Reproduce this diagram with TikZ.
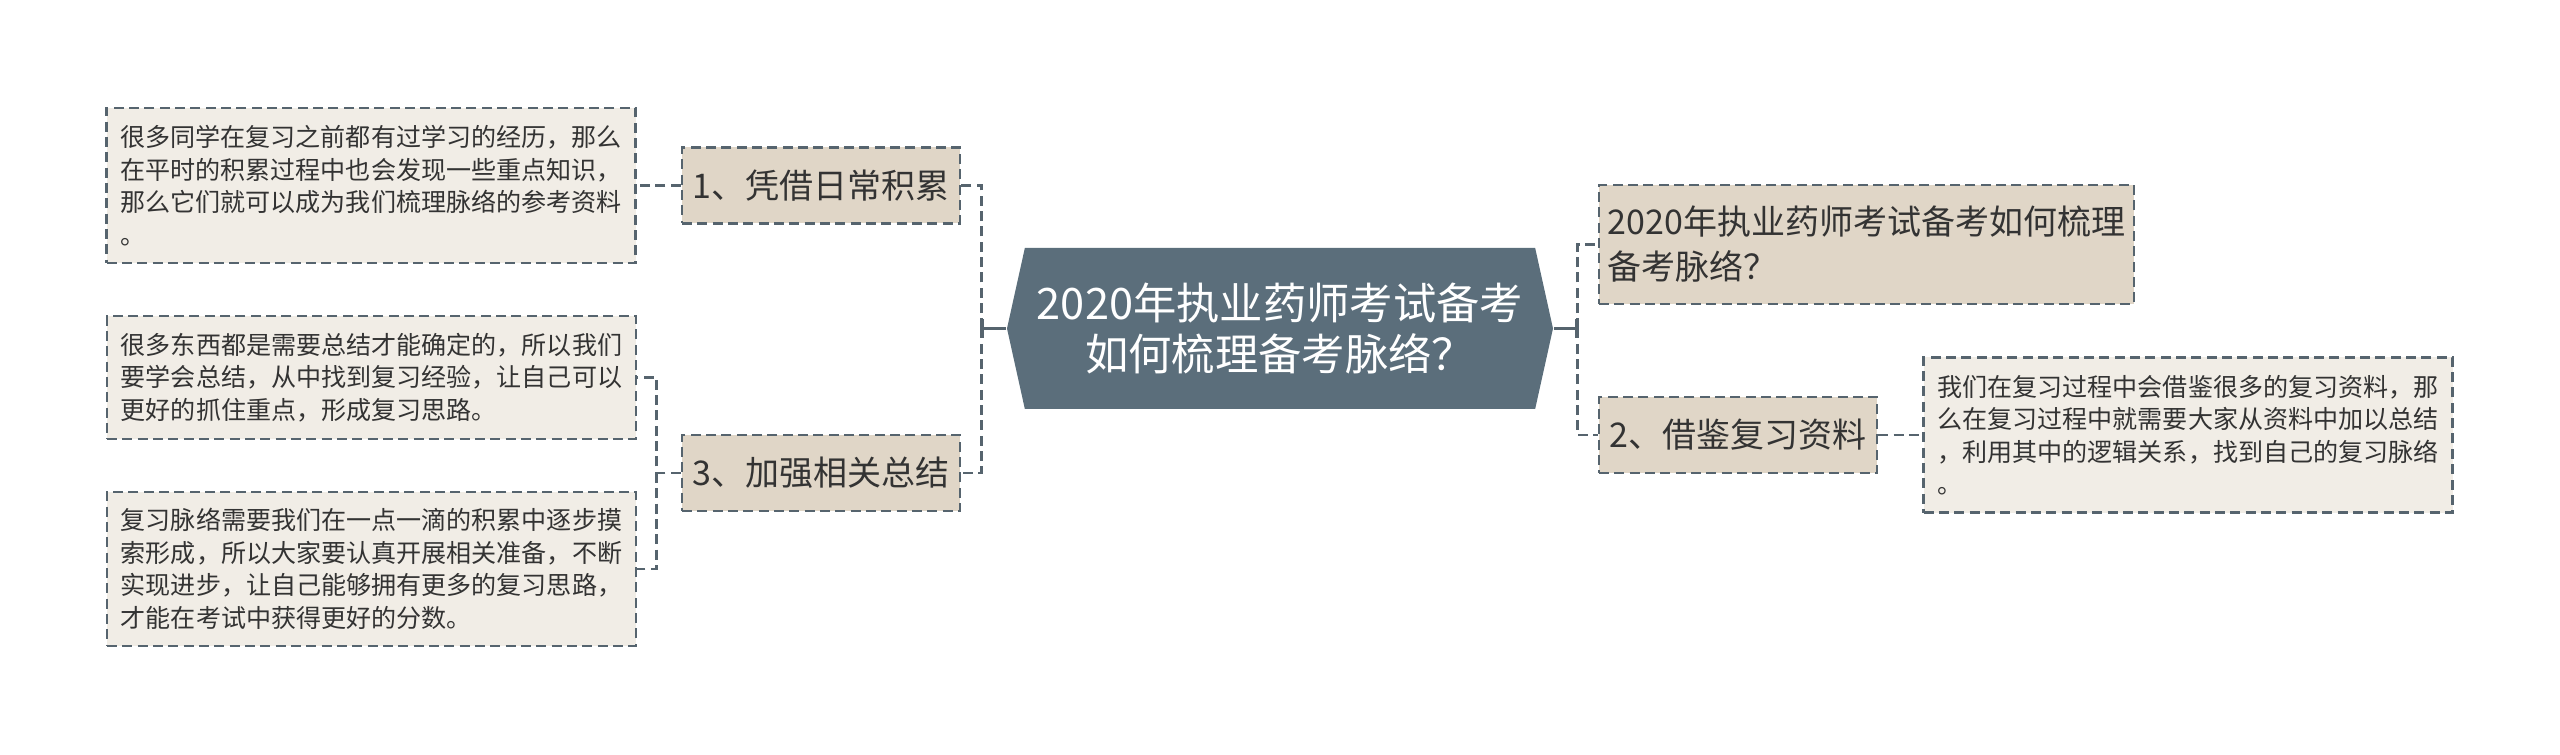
\documentclass[tikz,border=0pt]{standalone}
\usepackage{fontspec}
\setmainfont{Noto Sans CJK SC}
\usetikzlibrary{shapes.symbols,arrows.meta}
\definecolor{hexfill}{HTML}{5B6E7B}
\definecolor{topicfill}{HTML}{E0D6C7}
\definecolor{notefill}{HTML}{F1EDE6}
\definecolor{edge}{HTML}{56646E}
\definecolor{ink}{HTML}{333333}

\begin{document}
\begin{tikzpicture}[x=0.75pt,y=-0.75pt,line width=1.9pt,node distance=337.5pt,
  maintopic/.style={signal,signal to=west and east,signal pointer angle=155,fill=hexfill,text=white,
    minimum width=409.5pt,minimum height=120.75pt,inner sep=0pt,align=center,font=\fontsize{32.5}{38.5}\selectfont},
  dashbox/.style={draw=edge,dash pattern=on 7.5pt off 4pt},
  subtopic/.style={dashbox,fill=topicfill,text=ink,minimum width=208.5pt,minimum height=57pt,
    inner sep=0pt,align=left,font=\fontsize{25.5}{33.75}\selectfont},
  note/.style={dashbox,fill=notefill,text=ink,minimum width=396.75pt,inner sep=0pt,align=left,
    font=\fontsize{18.8}{24.4}\selectfont},
  link/.style={draw=edge,dash pattern=on 7.5pt off 4pt},
  stem/.style={draw=edge,-{Bar[width=14pt]}}]
  \useasboundingbox (0,0) rectangle (2560,755);
  \node[maintopic] (main) at (1280,328.5) {2020年执业药师考试备考\\如何梳理备考脉络？};
  \node[subtopic] (t1) at (821,185.5) {1、凭借日常积累};
  \node[subtopic] (t3) at (821,473) {3、加强相关总结};
  \node[subtopic,minimum width=401.25pt,minimum height=89.25pt] (t0) at (1866.5,244.5) {2020年执业药师考试备考如何梳理\\备考脉络？};
  \node[subtopic] (t2) at (1738,435) {2、借鉴复习资料};
  \node[note,minimum height=116.25pt] (n1) [left of=t1] {很多同学在复习之前都有过学习的经历，那么\\在平时的积累过程中也会发现一些重点知识，\\那么它们就可以成为我们梳理脉络的参考资料\\。};
  \node[note,minimum height=92.25pt] (n2) at (371.5,377.5) {很多东西都是需要总结才能确定的，所以我们\\要学会总结，从中找到复习经验，让自己可以\\更好的抓住重点，形成复习思路。};
  \node[note,minimum height=115.5pt] (n3) at (371.5,569) {复习脉络需要我们在一点一滴的积累中逐步摸\\索形成，所以大家要认真开展相关准备，不断\\实现进步，让自己能够拥有更多的复习思路，\\才能在考试中获得更好的分数。};
  \node[note,minimum height=116.25pt] (n4) [right of=t2] {我们在复习过程中会借鉴很多的复习资料，那\\么在复习过程中就需要大家从资料中加以总结\\，利用其中的逻辑关系，找到自己的复习脉络\\。};
  % junctions
  \coordinate (lj) at ([xshift=-18pt]main.west);
  \coordinate (rj) at ([xshift=17.25pt]main.east);
  \coordinate (tj) at ([xshift=-18pt]t3.west);
  \draw[stem] (main.west) -- (lj);
  \draw[stem] (main.east) -- (rj);
  \draw[link] (lj) |- (t1.east) (lj) |- (t3.east);
  \draw[link] (rj) |- (t0.west) (rj) |- (t2.west);
  \draw[link] (t1.west) -- (n1.east);
  \draw[link] (t3.west) -- (tj) |- (n2.east) (tj) |- (n3.east);
  \draw[link] (t2.east) -- (n4.west);
\end{tikzpicture}
\end{document}
